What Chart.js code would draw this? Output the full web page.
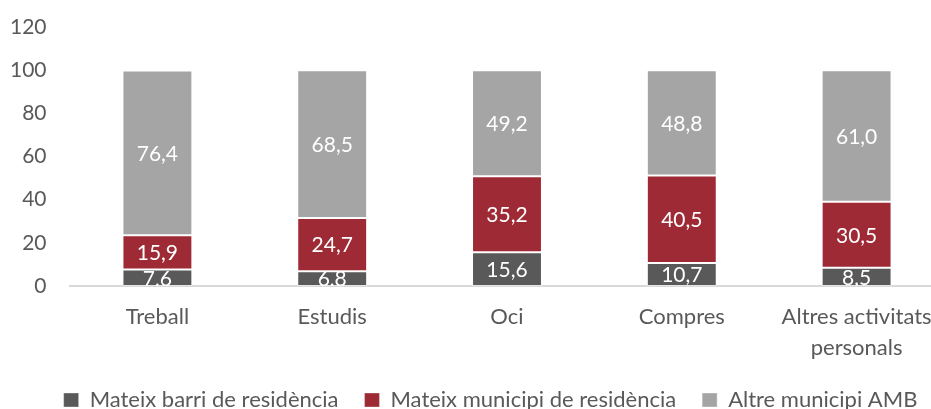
<!DOCTYPE html>
<html>
<head>
<meta charset="utf-8">
<script src="https://cdn.jsdelivr.net/npm/chart.js@4/dist/chart.umd.min.js"></script>
<style>
  html, body { margin: 0; padding: 0; background: #ffffff; overflow: hidden; }
  #wrap { width: 931px; height: 409px; overflow: hidden; }
  #c { display: block; }
</style>
</head>
<body>
<div id="wrap"><canvas id="c" width="960" height="409"></canvas></div>
<script>
const categories = ['Treball', 'Estudis', 'Oci', 'Compres', ['Altres activitats', 'personals']];
const seriesNames = ['Mateix barri de residència', 'Mateix municipi de residència', 'Altre municipi AMB'];
const barri = [7.6, 6.8, 15.6, 10.7, 8.5];
const municipi = [15.9, 24.7, 35.2, 40.5, 30.5];
const altre = [76.4, 68.5, 49.2, 48.8, 61.0];
const yTicks = [0, 20, 40, 60, 80, 100, 120];

const colors = ['#595959', '#9E2A36', '#A5A5A5'];
const FONT = 'Lato, "Liberation Sans", sans-serif';
const TEXT = '#595959';

const labelPlugin = {
  id: 'segLabels',
  afterDatasetsDraw(chart) {
    const ctx = chart.ctx;
    const area = chart.chartArea;
    ctx.save();
    ctx.beginPath();
    ctx.rect(area.left, area.top, area.right - area.left, area.bottom - area.top);
    ctx.clip();
    ctx.fillStyle = '#ffffff';
    ctx.font = '21px ' + FONT;
    ctx.textAlign = 'center';
    ctx.textBaseline = 'middle';
    chart.data.datasets.forEach((ds, di) => {
      const meta = chart.getDatasetMeta(di);
      meta.data.forEach((el, i) => {
        const v = ds.data[i];
        const p = el.getProps(['x', 'y', 'base'], true);
        const cy = (p.y + p.base) / 2;
        ctx.fillText(v.toFixed(1).replace('.', ','), p.x, cy + 1);
      });
    });
    ctx.restore();
  }
};

// nudge the legend box so it is centred like the original
const legendShift = {
  id: 'legendShift',
  afterLayout(chart) {
    const lg = chart.legend;
    if (lg) { lg.left += 18.5; lg.right += 18.5; }
  }
};

new Chart(document.getElementById('c'), {
  type: 'bar',
  data: {
    labels: categories,
    datasets: [
      { label: seriesNames[0], data: barri, backgroundColor: colors[0] },
      { label: seriesNames[1], data: municipi, backgroundColor: colors[1] },
      { label: seriesNames[2], data: altre, backgroundColor: colors[2] }
    ].map(d => Object.assign(d, {
      borderColor: 'rgba(255,255,255,0.35)',
      borderWidth: 1,
      borderSkipped: false,
      barPercentage: 1,
      categoryPercentage: 0.4
    }))
  },
  options: {
    responsive: false,
    animation: false,
    devicePixelRatio: 1,
    layout: { padding: { left: 0, right: 16, top: 27, bottom: -12 } },
    plugins: {
      tooltip: { enabled: false },
      legend: {
        position: 'bottom',
        labels: {
          color: TEXT,
          font: { family: FONT, size: 22 },
          boxWidth: 15,
          boxHeight: 14,
          padding: 26
        }
      }
    },
    scales: {
      x: {
        stacked: true,
        afterFit(scale) {
          scale.height = 77;
          scale.paddingLeft = 0;
          scale.paddingRight = 0;
        },
        grid: { display: false, drawTicks: false },
        border: { display: true, color: '#D9D9D9', width: 2 },
        ticks: {
          color: TEXT,
          font: { family: FONT, size: 22, lineHeight: 1.4 },
          padding: 16,
          maxRotation: 0,
          autoSkip: false
        }
      },
      y: {
        stacked: true,
        min: 0,
        max: 120,
        afterFit(scale) {
          scale.width = 70;
          scale.paddingTop = 0;
          scale.paddingBottom = 0;
        },
        afterBuildTicks(scale) { scale.ticks = yTicks.map(v => ({ value: v })); },
        grid: { display: false, drawTicks: false },
        border: { display: false },
        ticks: {
          color: TEXT,
          font: { family: FONT, size: 21 },
          padding: 23.5
        }
      }
    }
  },
  plugins: [labelPlugin, legendShift]
});
</script>
</body>
</html>
